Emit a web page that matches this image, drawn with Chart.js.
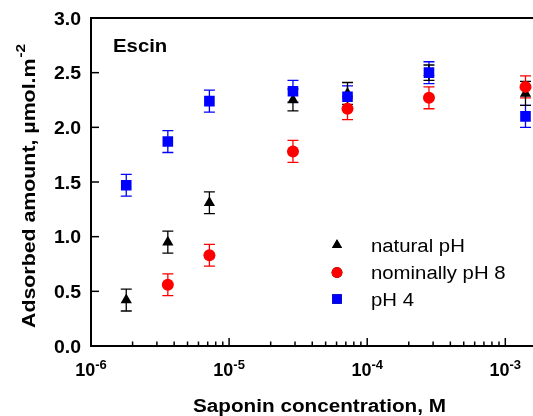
<!DOCTYPE html>
<html lang="en">
<head>
  <meta charset="UTF-8">
  <title>Escin adsorption</title>
  <script src="https://cdn.jsdelivr.net/npm/chart.js"></script>
  <style>
    html, body { margin: 0; padding: 0; background: #fff; overflow: hidden; }
    #wrap { width: 541px; height: 416px; }
  </style>
</head>
<body>
  <div id="wrap"><canvas id="chart"></canvas></div>

  <script>
    // concentrations (M)
    const concentrations = [1.8e-6, 3.6e-6, 7.2e-6, 2.9e-5, 7.2e-5, 2.8e-4, 1.4e-3];

    // adsorbed amount (umol/m2) and error bars
    const naturalPH = [0.42, 0.95, 1.31, 2.25, 2.31, 2.50, 2.31];
    const naturalErr = [0.10, 0.10, 0.10, 0.10, 0.10, 0.07, 0.11];
    const nominalPH8 = [null, 0.56, 0.83, 1.78, 2.17, 2.27, 2.37];
    const nominalErr = [0, 0.10, 0.10, 0.10, 0.10, 0.10, 0.10];
    const pH4 = [1.47, 1.87, 2.24, 2.33, 2.28, 2.50, 2.10];
    const pH4Err = [0.10, 0.10, 0.10, 0.10, 0.10, 0.10, 0.10];

    // axis ticks
    const yTicks = [0, 0.5, 1.0, 1.5, 2.0, 2.5, 3.0];
    const xDecades = [-6, -5, -4, -3];

    const FONT = '"Liberation Sans", Arial, sans-serif';
    const STRETCH = 1.13;

    function pts(vals, errs) {
      const out = [];
      for (let i = 0; i < concentrations.length; i++) {
        if (vals[i] === null) continue;
        out.push({ x: concentrations[i], y: vals[i], err: errs[i] });
      }
      return out;
    }

    // draw text with a small horizontal stretch
    function drawText(ctx, txt, x, y, font, align, angle, stretch) {
      ctx.save();
      ctx.font = font;
      const w = ctx.measureText(txt).width * stretch;
      ctx.translate(x, y);
      ctx.rotate(angle || 0);
      let dx = 0;
      if (align === 'center') dx = -w / 2;
      if (align === 'right') dx = -w;
      ctx.translate(dx, 0);
      ctx.scale(stretch, 1);
      ctx.textAlign = 'left';
      ctx.fillText(txt, 0, 0);
      ctx.restore();
      return w;
    }

    const errorBars = {
      id: 'errorBars',
      beforeDatasetsDraw(chart) {
        const ctx = chart.ctx;
        const xs = chart.scales.x, ys = chart.scales.y;
        chart.data.datasets.forEach(ds => {
          ctx.save();
          ctx.strokeStyle = ds.borderColor;
          ctx.lineWidth = 1.3;
          ds.data.forEach(p => {
            if (!p.err) return;
            const px = xs.getPixelForValue(p.x);
            const top = ys.getPixelForValue(p.y + p.err);
            const bot = ys.getPixelForValue(p.y - p.err);
            ctx.beginPath();
            ctx.moveTo(px, top); ctx.lineTo(px, bot);
            ctx.moveTo(px - 5.5, top); ctx.lineTo(px + 5.5, top);
            ctx.moveTo(px - 5.5, bot); ctx.lineTo(px + 5.5, bot);
            ctx.stroke();
          });
          ctx.restore();
        });
      }
    };

    const decorations = {
      id: 'decorations',
      afterDraw(chart) {
        const ctx = chart.ctx;
        const area = chart.chartArea;
        const xs = chart.scales.x, ys = chart.scales.y;
        ctx.save();
        ctx.fillStyle = '#000';
        ctx.strokeStyle = '#000';
        ctx.textBaseline = 'alphabetic';

        // top frame line
        ctx.lineWidth = 2;
        ctx.beginPath();
        ctx.moveTo(area.left - 1, area.top);
        ctx.lineTo(area.right + 10, area.top);
        ctx.stroke();

        // y ticks (inside) and labels
        ctx.lineWidth = 1.5;
        yTicks.forEach(v => {
          const py = ys.getPixelForValue(v);
          ctx.beginPath();
          ctx.moveTo(area.left, py); ctx.lineTo(area.left + 8, py);
          ctx.stroke();
          drawText(ctx, v.toFixed(1), 81, py + 6.5, 'bold 18px ' + FONT, 'right', 0, 1.08);
        });

        // x ticks: majors and minors, pointing up
        xDecades.forEach(e => {
          for (let m = 1; m <= 9; m++) {
            const v = m * Math.pow(10, e);
            if (v > xs.max) break;
            const px = xs.getPixelForValue(v);
            ctx.beginPath();
            ctx.moveTo(px, area.bottom);
            ctx.lineTo(px, area.bottom - (m === 1 ? 8 : 4.5));
            ctx.stroke();
          }
          // label 10^e
          const px = xs.getPixelForValue(Math.pow(10, e));
          ctx.font = 'bold 18px ' + FONT;
          const w1 = ctx.measureText('10').width;
          ctx.font = 'bold 13px ' + FONT;
          const sup = '-' + Math.abs(e);
          const w2 = ctx.measureText(sup).width;
          const x0 = px - (w1 + w2) / 2;
          drawText(ctx, '10', x0, 376, 'bold 18px ' + FONT, 'left', 0, 1);
          drawText(ctx, sup, x0 + w1, 369, 'bold 13px ' + FONT, 'left', 0, 1);
        });

        // axis titles
        drawText(ctx, 'Saponin concentration, M', 319.5, 412, 'bold 18px ' + FONT, 'center', 0, 1.15);
        ctx.save();
        ctx.translate(35, 328);
        ctx.rotate(-Math.PI / 2);
        const wt = drawText(ctx, 'Adsorbed amount, \u00b5mol.m', 0, 0, 'bold 18px ' + FONT, 'left', 0, 1.185);
        drawText(ctx, '-2', wt + 1, -10, 'bold 13px ' + FONT, 'left', 0, 1.185);
        ctx.restore();

        // panel label
        drawText(ctx, 'Escin', 113, 52, 'bold 18px ' + FONT, 'left', 0, STRETCH);

        // legend
        const legendY = [245, 272.5, 299];
        chart.data.datasets.slice().reverse().forEach((ds, i) => {
          Chart.helpers.drawPoint(ctx, {
            pointStyle: ds.pointStyle,
            radius: ds.pointRadius * 0.9,
            rotation: 0,
            borderWidth: 0
          }, 337, legendY[i]);
          ctx.fillStyle = ds.backgroundColor;
          ctx.fill();
          ctx.fillStyle = '#000';
          drawText(ctx, ds.label, 371, legendY[i] + 6.5, '18px ' + FONT, 'left', 0, STRETCH);
        });
        ctx.restore();
      }
    };

    new Chart(document.getElementById('chart'), {
      type: 'scatter',
      data: {
        datasets: [
          {
            label: 'pH 4',
            data: pts(pH4, pH4Err),
            pointStyle: 'rect',
            pointRadius: 7.5,
            backgroundColor: '#0000ff',
            borderColor: '#0000ff',
            borderWidth: 0,
            order: 1
          },
          {
            label: 'nominally pH 8',
            data: pts(nominalPH8, nominalErr),
            pointStyle: 'circle',
            pointRadius: 6,
            backgroundColor: '#ff0000',
            borderColor: '#ff0000',
            borderWidth: 0,
            order: 2
          },
          {
            label: 'natural pH',
            data: pts(naturalPH, naturalErr),
            pointStyle: 'triangle',
            pointRadius: 6.5,
            backgroundColor: '#000000',
            borderColor: '#000000',
            borderWidth: 0,
            order: 3
          }
        ]
      },
      options: {
        responsive: true,
        maintainAspectRatio: false,
        animation: false,
        layout: { padding: { top: 18, right: 0, left: 0, bottom: 0 } },
        scales: {
          x: {
            type: 'logarithmic',
            min: 1e-6,
            max: 1.6e-3,
            grid: { display: false, drawTicks: false },
            border: { display: true, color: '#000', width: 2 },
            ticks: { display: false },
            afterFit(scale) { scale.height = 70; }
          },
          y: {
            min: 0,
            max: 3,
            grid: { display: false, drawTicks: false },
            border: { display: true, color: '#000', width: 2 },
            ticks: { display: false },
            afterFit(scale) { scale.width = 91; }
          }
        },
        plugins: {
          legend: { display: false },
          tooltip: { enabled: false }
        }
      },
      plugins: [errorBars, decorations]
    });
  </script>
</body>
</html>
